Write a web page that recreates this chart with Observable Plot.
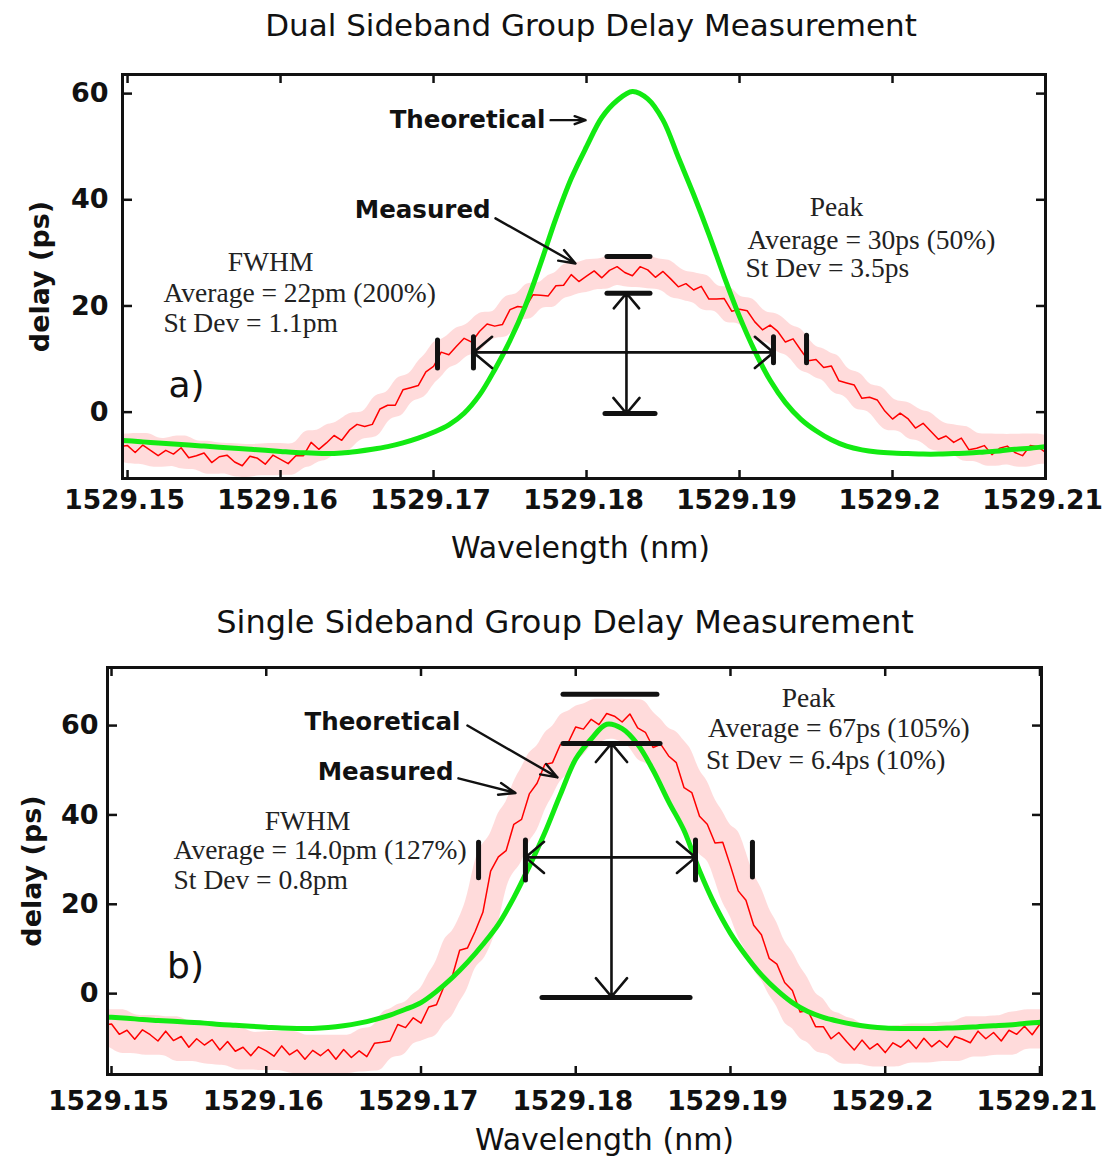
<!DOCTYPE html>
<html>
<head>
<meta charset="utf-8">
<script src="https://cdn.jsdelivr.net/npm/d3@7"></script>
<script src="https://cdn.jsdelivr.net/npm/@observablehq/plot@0.6"></script>
<style>
  body { margin: 0; background: #fff; }
  #wrap { position: relative; width: 1102px; height: 1161px; overflow: hidden; background: #fff; }
  .title { position: absolute; transform: translateX(-50%); white-space: nowrap;
           font-family: "DejaVu Sans", sans-serif; line-height: 36px; color: #111; }
  #plotA { position: absolute; left: 0; top: 0; }
  #plotB { position: absolute; left: 0; top: 580px; }
</style>
</head>
<body>
<div id="wrap">
  <div class="title" style="left:591px; top:7px; font-size:31px;">Dual Sideband Group Delay Measurement</div>
  <div class="title" style="left:565px; top:604px; font-size:32px;">Single Sideband Group Delay Measurement</div>
  <div id="plotA"></div>
  <div id="plotB"></div>
</div>
<script>
// ---------- data ----------
const xTicks = [1529.15, 1529.16, 1529.17, 1529.18, 1529.19, 1529.20, 1529.21];
const xTickLabels = ["1529.15", "1529.16", "1529.17", "1529.18", "1529.19", "1529.2", "1529.21"];
const yTicks = [0, 20, 40, 60];

// wavelength grid of the theoretical curves (nm)
const wlGreen = [1529.149,
  1529.150,1529.151,1529.152,1529.153,1529.154,1529.155,1529.156,1529.157,1529.158,1529.159,
  1529.160,1529.161,1529.162,1529.163,1529.164,1529.165,1529.166,1529.167,1529.168,1529.169,
  1529.170,1529.171,1529.172,1529.173,1529.174,1529.175,1529.176,1529.177,1529.178,1529.179,
  1529.180,1529.181,1529.182,1529.183,1529.184,1529.185,1529.186,1529.187,1529.188,1529.189,
  1529.190,1529.191,1529.192,1529.193,1529.194,1529.195,1529.196,1529.197,1529.198,1529.199,
  1529.200,1529.201,1529.202,1529.203,1529.204,1529.205,1529.206,1529.207,1529.208,1529.209,
  1529.210,1529.2105];

// theoretical delay, panel a (ps)
const greenA = [-5.3,
  -5.4,-5.6,-5.8,-6.0,-6.2,-6.4,-6.6,-6.8,-7.0,-7.2,
  -7.4,-7.6,-7.7,-7.8,-7.7,-7.4,-7.0,-6.5,-5.8,-4.9,
  -3.8,-2.4,-0.2,3.2,8.0,13.5,20.0,28.0,36.5,44.0,
  50.0,55.5,58.7,60.4,59.0,55.0,48.0,41.0,33.5,25.5,
  18.0,11.5,6.0,1.8,-1.3,-3.5,-5.2,-6.4,-7.1,-7.5,
  -7.7,-7.8,-7.9,-7.9,-7.8,-7.7,-7.5,-7.3,-7.0,-6.8,
  -6.5,-6.4];

// theoretical delay, panel b (ps)
const greenB = [-5.2,
  -5.3,-5.5,-5.8,-6.0,-6.2,-6.4,-6.6,-6.9,-7.1,-7.3,
  -7.5,-7.7,-7.8,-7.8,-7.6,-7.2,-6.6,-5.8,-4.8,-3.5,
  -2.0,0.5,3.5,7.0,11.0,15.5,21.5,28.5,36.0,44.5,
  52.5,57.0,60.3,59.3,55.8,50.0,43.0,36.5,27.5,19.8,
  13.5,8.5,4.2,0.8,-2.0,-4.0,-5.3,-6.2,-6.9,-7.4,
  -7.7,-7.8,-7.8,-7.8,-7.7,-7.6,-7.4,-7.2,-7.0,-6.7,
  -6.4,-6.3];

// wavelength grid of the measured curves (nm)
const wlMeas = [1529.149,
  1529.1500,1529.1505,1529.1510,1529.1515,1529.1520,1529.1525,1529.1530,1529.1535,1529.1540,1529.1545,
  1529.1550,1529.1555,1529.1560,1529.1565,1529.1570,1529.1575,1529.1580,1529.1585,1529.1590,1529.1595,
  1529.1600,1529.1605,1529.1610,1529.1615,1529.1620,1529.1625,1529.1630,1529.1635,1529.1640,1529.1645,
  1529.1650,1529.1655,1529.1660,1529.1665,1529.1670,1529.1675,1529.1680,1529.1685,1529.1690,1529.1695,
  1529.1700,1529.1705,1529.1710,1529.1715,1529.1720,1529.1725,1529.1730,1529.1735,1529.1740,1529.1745,
  1529.1750,1529.1755,1529.1760,1529.1765,1529.1770,1529.1775,1529.1780,1529.1785,1529.1790,1529.1795,
  1529.1800,1529.1805,1529.1810,1529.1815,1529.1820,1529.1825,1529.1830,1529.1835,1529.1840,1529.1845,
  1529.1850,1529.1855,1529.1860,1529.1865,1529.1870,1529.1875,1529.1880,1529.1885,1529.1890,1529.1895,
  1529.1900,1529.1905,1529.1910,1529.1915,1529.1920,1529.1925,1529.1930,1529.1935,1529.1940,1529.1945,
  1529.1950,1529.1955,1529.1960,1529.1965,1529.1970,1529.1975,1529.1980,1529.1985,1529.1990,1529.1995,
  1529.2000,1529.2005,1529.2010,1529.2015,1529.2020,1529.2025,1529.2030,1529.2035,1529.2040,1529.2045,
  1529.2050,1529.2055,1529.2060,1529.2065,1529.2070,1529.2075,1529.2080,1529.2085,1529.2090,1529.2095,
  1529.2100,1529.2105];

// measured delay (averaged trace), panel a (ps)
const measA = [-6.6,
  -6.3,-7.6,-6.2,-7.2,-8.2,-7.2,-7.9,-6.7,-8.6,-8.2,
  -7.7,-9.5,-8.4,-8.1,-9.4,-10.1,-8.3,-8.7,-9.8,-8.1,
  -8.9,-9.7,-8.2,-8.2,-5.7,-7.0,-5.8,-4.4,-5.3,-3.4,
  -2.3,-2.7,-2.3,0.6,1.3,1.3,4.2,4.6,5.0,7.6,
  8.6,11.3,10.8,12.4,13.9,13.2,15.2,16.6,16.2,16.5,
  19.3,19.9,19.7,22.1,22.0,21.9,23.8,23.9,25.9,24.6,
  25.6,26.6,25.3,26.7,27.4,26.3,25.7,27.4,26.8,25.4,
  26.5,25.1,23.6,24.2,23.0,23.7,21.3,21.3,21.4,19.0,
  19.4,19.1,17.0,15.5,16.4,15.2,13.2,13.8,11.7,9.7,
  9.9,8.4,8.7,5.9,5.5,5.1,2.6,2.8,2.3,0.2,
  -1.3,-0.2,-1.2,-3.0,-2.1,-3.6,-5.1,-4.5,-5.7,-4.9,
  -7.1,-6.8,-6.3,-8.0,-6.8,-6.4,-7.6,-8.2,-6.3,-6.5,
  -7.6,-7.2];

// measured delay (averaged trace), panel b (ps)
const measB = [-7.2,
  -6.8,-9.1,-8.2,-10.2,-8.1,-9.2,-10.6,-8.4,-10.5,-9.6,
  -12.0,-10.1,-11.5,-10.3,-12.6,-10.7,-12.9,-12.0,-13.9,-11.9,
  -12.8,-14.0,-11.7,-13.7,-12.6,-14.7,-12.7,-13.9,-12.5,-14.7,
  -12.5,-14.3,-12.8,-14.1,-11.1,-10.9,-10.6,-6.9,-7.6,-5.4,
  -6.6,-3.0,-2.5,1.7,3.6,9.7,10.2,13.9,18.2,27.4,
  30.6,32.0,37.9,39.0,44.7,47.1,51.3,51.7,55.7,56.1,
  59.7,59.2,61.4,60.2,62.7,62.1,60.8,62.6,59.5,58.5,
  55.1,55.8,53.2,51.7,46.1,45.0,39.7,37.9,33.7,33.9,
  28.6,23.0,20.9,15.3,13.2,7.9,6.6,2.5,0.7,-4.1,
  -3.8,-7.4,-7.4,-10.1,-8.7,-10.7,-12.6,-10.4,-12.4,-11.2,
  -13.2,-11.0,-12.0,-10.4,-12.3,-10.0,-11.9,-10.5,-12.0,-9.6,
  -10.2,-11.0,-8.4,-10.1,-8.7,-10.6,-8.2,-9.1,-7.3,-9.2,
  -6.8,-7.6];

// ---------- annotations (in data units) ----------
// horizontal bars [x1, x2, y]
const hBarsA = [[1529.18137, 1529.18418, 29.3], [1529.18137, 1529.18418, 22.4], [1529.18124, 1529.18451, -0.25]];
const hBarsB = [[1529.17921, 1529.18528, 67.0], [1529.17921, 1529.18548, 56.0], [1529.17785, 1529.18742, -0.85]];
// vertical bars [x, y1, y2]
const vBarsA = [[1529.17261, 8.2, 14.1], [1529.19222, 9.2, 14.1], [1529.17026, 8.2, 13.5], [1529.19438, 9.2, 14.4]];
const vBarsB = [[1529.17675, 25.3, 34.3], [1529.18774, 25.3, 34.3], [1529.17372, 25.8, 33.8], [1529.19142, 26.0, 33.8]];
// double-headed measuring arrows, drawn from their crossing point [x1, y1, x2, y2]
const dblArrowsA = [
  [1529.18261, 11.25, 1529.17261, 11.25], [1529.18261, 11.25, 1529.19222, 11.25],
  [1529.18261, 11.25, 1529.18261, 22.4], [1529.18261, 11.25, 1529.18261, -0.25]];
const dblArrowsB = [
  [1529.18231, 30.5, 1529.17675, 30.5], [1529.18231, 30.5, 1529.18774, 30.5],
  [1529.18231, 30.5, 1529.18231, 56.0], [1529.18231, 30.5, 1529.18231, -0.7]];
// label pointer arrows [x1, y1, x2, y2]
const ptrArrowsA = [[1529.17765, 55.0, 1529.17994, 55.0], [1529.17405, 36.5, 1529.17928, 28.0]];
const ptrArrowsB = [[1529.17300, 60.0, 1529.17882, 48.4], [1529.17242, 48.2, 1529.17611, 44.9]];
// bold labels [text, x(end), y]
const boldA = [["Theoretical", 1529.17732, 55.0], ["Measured", 1529.17373, 38.0]];
const boldB = [["Theoretical", 1529.17255, 60.7], ["Measured", 1529.17210, 49.5]];
// serif statistics [text, x, y, anchor]
const statsA = [
  ["FWHM", 1529.15935, 28.2, "middle"],
  ["Average = 22pm (200%)", 1529.15235, 22.4, "start"],
  ["St Dev = 1.1pm", 1529.15235, 16.7, "start"],
  ["Peak", 1529.19634, 38.6, "middle"],
  ["Average = 30ps (50%)", 1529.19052, 32.4, "start"],
  ["St Dev = 3.5ps", 1529.19039, 27.1, "start"]];
const statsB = [
  ["FWHM", 1529.16267, 38.6, "middle"],
  ["Average = 14.0pm (127%)", 1529.15401, 32.0, "start"],
  ["St Dev = 0.8pm", 1529.15401, 25.3, "start"],
  ["Peak", 1529.19504, 66.1, "middle"],
  ["Average = 67ps (105%)", 1529.18855, 59.4, "start"],
  ["St Dev = 6.4ps (10%)", 1529.18842, 52.2, "start"]];
const letterA = [["a)", 1529.15386, 5.0]];
const letterB = [["b)", 1529.15478, 6.1]];

// ---------- drawing ----------
// spread of the raw measurement cloud around the averaged trace
function envelope(wl, m, h, v) {
  return wl.map((x, i) => {
    let lo = Infinity, hi = -Infinity;
    for (let j = 0; j < wl.length; j++) {
      if (Math.abs(wl[j] - x) <= h + 1e-9) { lo = Math.min(lo, m[j]); hi = Math.max(hi, m[j]); }
    }
    return {x, lo: lo - v, hi: hi + v};
  });
}

const INK = "#111";
const tickLabel = d => xTickLabels[xTicks.indexOf(d)];

function panel(c) {
  const green = wlGreen.map((x, i) => ({x, y: c.green[i]}));
  const meas = wlMeas.map((x, i) => ({x, y: c.meas[i]}));
  const cloud = envelope(wlMeas, c.meas, c.cloudH, c.cloudV);
  const tk = {stroke: INK, strokeWidth: 2.5, tickSize: 9, tickFormat: () => "", label: null};
  const serif = {fontFamily: "Liberation Serif", fontSize: 27.5, fill: "#222"};
  return Plot.plot({
    width: 1102, height: c.height,
    marginLeft: c.ml, marginRight: c.mr, marginTop: c.mt, marginBottom: c.mb,
    x: {domain: c.xDomain},
    y: {domain: c.yDomain},
    style: {background: "transparent", overflow: "visible"},
    marks: [
      Plot.areaY(cloud, {x: "x", y1: "lo", y2: "hi", curve: "basis", fill: "#ff5c5c", fillOpacity: 0.22, clip: true}),
      Plot.line(meas, {x: "x", y: "y", stroke: "#ff0000", strokeWidth: 1.5, clip: true}),
      Plot.line(green, {x: "x", y: "y", curve: "catmull-rom", stroke: "#12ea12", strokeWidth: 5, clip: true}),
      Plot.ruleY(c.hBars, {x1: d => d[0], x2: d => d[1], y: d => d[2], stroke: INK, strokeWidth: 5, strokeLinecap: "round"}),
      Plot.ruleX(c.vBars, {x: d => d[0], y1: d => d[1], y2: d => d[2], stroke: INK, strokeWidth: 5, strokeLinecap: "round"}),
      Plot.arrow(c.dbl, {x1: d => d[0], y1: d => d[1], x2: d => d[2], y2: d => d[3], stroke: INK, strokeWidth: 2.6, headLength: 14, headAngle: 80}),
      Plot.arrow(c.ptr, {x1: d => d[0], y1: d => d[1], x2: d => d[2], y2: d => d[3], stroke: INK, strokeWidth: 2.4, headLength: 11, headAngle: 40}),
      Plot.text(c.bold, {x: d => d[1], y: d => d[2], text: d => d[0], textAnchor: "end",
        fontFamily: "DejaVu Sans", fontWeight: "bold", fontSize: 24.5, fill: INK}),
      Plot.text(c.stats.filter(d => d[3] === "start"), {x: d => d[1], y: d => d[2], text: d => d[0], textAnchor: "start", ...serif}),
      Plot.text(c.stats.filter(d => d[3] === "middle"), {x: d => d[1], y: d => d[2], text: d => d[0], textAnchor: "middle", ...serif}),
      Plot.text(c.letter, {x: d => d[1], y: d => d[2], text: d => d[0],
        fontFamily: "DejaVu Sans", fontSize: 36, fill: INK}),
      Plot.frame({stroke: INK, strokeWidth: 3}),
      Plot.axisX(xTicks, {anchor: "top", frameAnchor: "bottom", ...tk}),
      Plot.axisX(xTicks, {anchor: "bottom", frameAnchor: "top", ...tk}),
      Plot.axisY(yTicks, {anchor: "right", frameAnchor: "left", ...tk}),
      Plot.axisY(yTicks, {anchor: "left", frameAnchor: "right", ...tk}),
      Plot.axisX(xTicks, {anchor: "bottom", tickSize: 0, tickPadding: c.xPad, tickFormat: tickLabel, label: null, dx: -3,
        fontFamily: "DejaVu Sans", fontWeight: "bold", fontSize: 26.5, fill: INK}),
      Plot.axisY(yTicks, {anchor: "left", tickSize: 0, tickPadding: c.yPad, label: null,
        fontFamily: "DejaVu Sans", fontWeight: "bold", fontSize: 27, fill: INK}),
      Plot.text(["Wavelength (nm)"], {frameAnchor: "bottom", text: d => d, lineAnchor: "middle", textAnchor: "middle",
        dx: c.xLabDx, dy: c.xLabDy, fontFamily: "DejaVu Sans", fontSize: 30, fill: INK}),
      Plot.text(["delay (ps)"], {frameAnchor: "left", text: d => d, rotate: -90, lineAnchor: "middle", textAnchor: "middle",
        dx: c.yLabDx, dy: c.yLabDy, fontFamily: "DejaVu Sans", fontWeight: "bold", fontSize: 27, fill: INK})
    ]
  });
}

document.getElementById("plotA").append(panel({
  height: 580, ml: 122, mr: 57, mt: 74, mb: 102,
  xDomain: [1529.14967, 1529.2100], yDomain: [-12.5, 63.6],
  green: greenA, meas: measA, cloudH: 0.0008, cloudV: 2.2,
  hBars: hBarsA, vBars: vBarsA, dbl: dblArrowsA, ptr: ptrArrowsA,
  bold: boldA, stats: statsA, letter: letterA,
  xPad: 12, yPad: 14, xLabDx: -3.5, xLabDy: 70, yLabDx: -82, yLabDy: 0
}));

document.getElementById("plotB").append(panel({
  height: 581, ml: 107, mr: 61, mt: 87, mb: 87,
  xDomain: [1529.14974, 1529.2101], yDomain: [-18.1, 73.0],
  green: greenB, meas: measB, cloudH: 0.0012, cloudV: 3.2,
  hBars: hBarsB, vBars: vBarsB, dbl: dblArrowsB, ptr: ptrArrowsB,
  bold: boldB, stats: statsB, letter: letterB,
  xPad: 17, yPad: 9, xLabDx: 30, xLabDy: 66, yLabDx: -75, yLabDy: 0
}));
</script>
</body>
</html>
